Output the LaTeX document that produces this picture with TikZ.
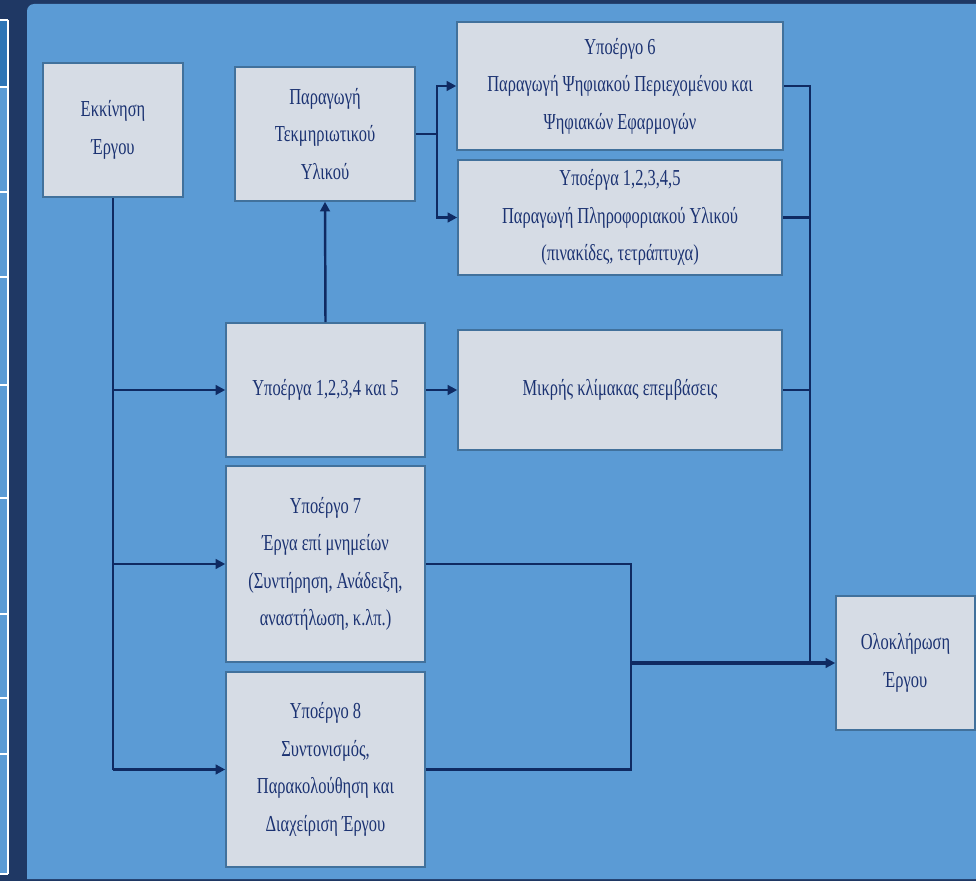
\documentclass[tikz,border=0pt]{standalone}
\usepackage{fontspec}
\setmainfont{Liberation Serif}[FakeStretch=0.72]
\usepackage{tikz}
\usetikzlibrary{positioning,arrows.meta}

\definecolor{navy}{HTML}{1F3864}
\definecolor{panelblue}{HTML}{5B9BD5}
\definecolor{cellblue}{HTML}{2E75B6}
\definecolor{boxfill}{HTML}{D6DCE5}
\definecolor{boxline}{HTML}{41719C}
\definecolor{linkblue}{HTML}{0F2A62}
\definecolor{textblue}{HTML}{1B3272}

\begin{document}
\begin{tikzpicture}[x=0.02cm, y=-0.02cm, every node/.style={font=\fontsize{13}{21.3}\selectfont, text=textblue}]
    \tikzset{
        stagebox/.style = {rectangle, line width=0.9pt, inner sep=0pt, align=center, draw=boxline, fill=boxfill},
        link/.style = {line width=1.4pt, draw=linkblue},
        arrow/.style = {line width=1.4pt, draw=linkblue, -{Triangle[length=5.5pt, width=5.5pt]}},
    }
    \useasboundingbox (0,0) rectangle (976,881);
    \fill[navy] (0,0) rectangle (976,881);
    \fill[panelblue] (0,20) rectangle (8,874);
    \fill[cellblue] (0,20) rectangle (8,87);
    \draw[white, line width=0.9pt] (8,20) -- (8,874);
    \foreach \y in {20,87,192,277,385,498,614,698,754,874}
        \draw[white, line width=0.9pt] (0,\y) -- (8,\y);
    \fill[panelblue] (27,879) [rounded corners=4pt] -- (27,4) [sharp corners] -- (976,4) -- (976,879) -- cycle;

    \node (start) [stagebox, minimum width=2.8cm, minimum height=2.68cm] at (113,130) {Εκκίνηση\\Έργου};
    \node (docs) [stagebox, minimum width=3.6cm, minimum height=2.68cm] at (325,134) {Παραγωγή\\Τεκμηριωτικού\\Υλικού};
    \node (sub6) [stagebox, minimum width=6.52cm, minimum height=2.56cm] at (620,86) {Υποέργο 6\\Παραγωγή Ψηφιακού Περιεχομένου και\\Ψηφιακών Εφαρμογών};
    \node (info) [stagebox, minimum width=6.48cm, minimum height=2.3cm] at (620,217.5) {Υποέργα 1,2,3,4,5\\Παραγωγή Πληροφοριακού Υλικού\\(πινακίδες, τετράπτυχα)};
    \node (sub15) [stagebox, minimum width=3.98cm, minimum height=2.68cm] at (325.5,390) {Υποέργα 1,2,3,4 και 5};
    \node (small) [stagebox, minimum width=6.48cm, minimum height=2.4cm] at (620,390) {Μικρής κλίμακας επεμβάσεις};
    \node (sub7) [stagebox, minimum width=3.98cm, minimum height=3.92cm] at (325.5,564) {Υποέργο 7\\Έργα επί μνημείων\\(Συντήρηση, Ανάδειξη,\\αναστήλωση, κ.λπ.)};
    \node (sub8) [stagebox, minimum width=3.98cm, minimum height=3.9cm] at (325.5,769.5) {Υποέργο 8\\Συντονισμός,\\Παρακολούθηση και\\Διαχείριση Έργου};
    \node (finish) [stagebox, minimum width=2.78cm, minimum height=2.68cm] at (905.5,663) {Ολοκλήρωση\\Έργου};

    \coordinate (down1) at (start.south |- sub8.west);
    \draw [link] (start.south) -- (down1);
    \draw [arrow] (start.south |- sub15.west) -- (sub15.west);
    \draw [arrow] (start.south |- sub7.west) -- (sub7.west);
    \draw [arrow] (down1) -- (sub8.west);

    \draw [arrow] (sub15.north) -- (docs.south);
    \draw [arrow] (sub15.east) -- (small.west);

    \coordinate (split1) at (437,134);
    \draw [link] (docs.east) -- (split1);
    \draw [arrow] (split1) |- (sub6.west);
    \draw [arrow] (split1) |- (info.west);

    \coordinate (up1) at (810,86);
    \coordinate (join1) at (810,663);
    \draw [link] (sub6.east) -- (up1) -- (join1);
    \draw [link] (info.east) -- (info.east -| up1);
    \draw [link] (small.east) -- (small.east -| up1);

    \coordinate (up2) at (631,564);
    \coordinate (join2) at (631,663);
    \draw [link] (sub7.east) -- (up2) |- (sub8.east);
    \draw [arrow, line width=1.9pt] (join2) -- (finish.west);
\end{tikzpicture}
\end{document}
